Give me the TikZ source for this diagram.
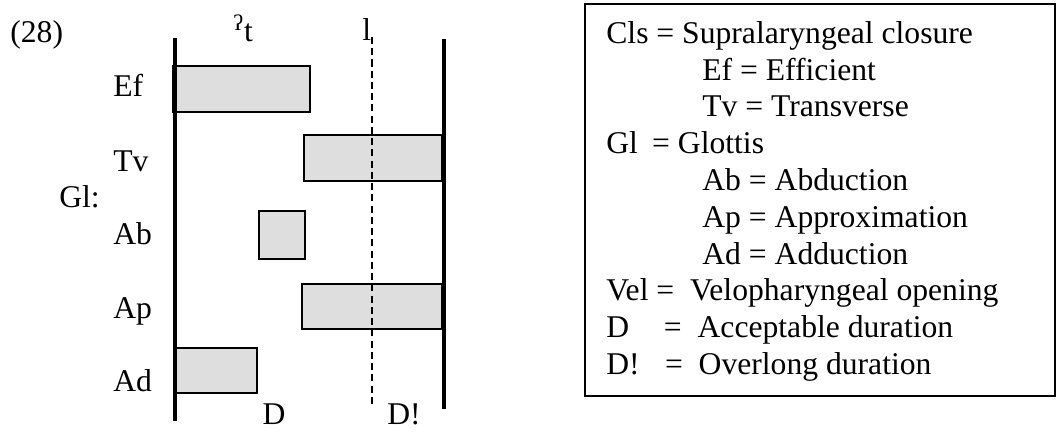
\documentclass[tikz,border=0pt]{standalone}
\usepackage{fontspec}
\setmainfont{Liberation Serif}
\definecolor{barfill}{gray}{0.87}

\begin{document}
\begin{tikzpicture}[font=\fontsize{18}{21}\selectfont,
  lab/.style={inner sep=0pt,anchor=base west},
  bar/.style={draw,line width=1.1pt,fill=barfill},
  limit/.style={line width=2.5pt}]
\useasboundingbox (0,0) rectangle (21.16,8.64);
% gestural timing chart
\node[lab] (num) at (0.2,7.78) {(28)};
\node[lab] (gst) at (4.66,7.8) {\textsuperscript{ʔ}t};
\node[lab] (ll) at (7.24,7.83) {l};
\node[lab] (ef) at (2.26,6.7) {Ef};
\node[lab] (tv) at (2.26,5.2) {Tv};
\node[lab] (gl) at (1.18,4.48) {Gl:};
\node[lab] (ab) at (2.26,3.74) {Ab};
\node[lab] (ap) at (2.26,2.26) {Ap};
\node[lab] (ad) at (2.26,0.8) {Ad};
\node[inner sep=0pt,anchor=base] (dd) at (5.48,0.14) {D};
\node[inner sep=0pt,anchor=base] (ddx) at (8.08,0.14) {D!};
\draw[bar] (3.46,7.32) rectangle (6.2,6.4);
\draw[bar] (6.08,5.94) rectangle (8.84,5.02);
\draw[bar] (5.18,4.42) rectangle (6.1,3.46);
\draw[bar] (6.04,2.96) rectangle (8.84,2.06);
\draw[bar] (3.52,1.68) rectangle (5.14,0.78);
\draw[line width=0.7pt,dash pattern=on 4pt off 2.4pt] (7.44,7.9) coordinate (lt)--(7.44,0.48) coordinate (lb);
\draw[limit] (3.5,7.88) coordinate (st)--(3.5,0.22) coordinate (sb);
\draw[limit] (8.88,7.86) coordinate (et)--(8.88,0.46) coordinate (eb);
% key
\draw[line width=1.1pt] (11.7,8.56) rectangle (21.1,0.72);
\node[lab] (k1) at (12.12,7.774) {Cls = Supralaryngeal closure};
\node[lab] (k2) at (14.04,7.038) {Ef = Efficient};
\node[lab] (k3) at (14.04,6.302) {Tv = Transverse};
\node[lab] (k4) at (12.12,5.566) {Gl\hspace{0.45em}= Glottis};
\node[lab] (k5) at (14.04,4.83) {Ab = Abduction};
\node[lab] (k6) at (14.04,4.094) {Ap = Approximation};
\node[lab] (k7) at (14.04,3.358) {Ad = Adduction};
\node[lab] (k8) at (12.12,2.622) {Vel =\hspace{0.5em}Velopharyngeal opening};
\node[lab] (k9) at (12.12,1.886) {D\hspace{1.1em}=\hspace{0.5em}Acceptable duration};
\node[lab] (k10) at (12.12,1.15) {D!\hspace{0.8em}=\hspace{0.5em}Overlong duration};
\end{tikzpicture}
\end{document}
